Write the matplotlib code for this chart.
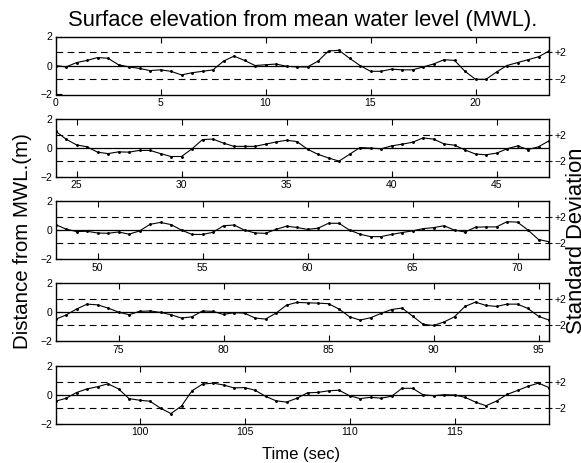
import numpy as np
import matplotlib
matplotlib.use("Agg")
import matplotlib.pyplot as plt

plt.rcParams['font.family'] = ['Liberation Sans', 'DejaVu Sans']

# Surface elevation (m) sampled every 0.5 s, one list per 24-s strip
strip1 = [0.0, -0.1, 0.2, 0.35, 0.55, 0.5, 0.05, -0.1, -0.2, -0.35, -0.3, -0.4,
          -0.65, -0.5, -0.4, -0.3, 0.3, 0.65, 0.35, 0.0, 0.05, 0.1, -0.05, -0.1,
          -0.1, 0.3, 1.0, 1.05, 0.5, 0.0, -0.4, -0.4, -0.25, -0.3, -0.3, -0.1,
          0.1, 0.4, 0.35, -0.4, -0.95, -0.95, -0.45, 0.0, 0.2, 0.4, 0.6, 1.0]
strip2 = [1.15, 0.6, 0.2, 0.07, -0.3, -0.4, -0.28, -0.3, -0.18, -0.18, -0.4, -0.6,
          -0.6, -0.07, 0.57, 0.6, 0.32, 0.1, 0.1, 0.1, 0.25, 0.4, 0.52, 0.43,
          -0.1, -0.45, -0.7, -0.92, -0.45, 0.02, -0.02, -0.07, 0.13, 0.25, 0.38, 0.68,
          0.6, 0.27, 0.18, -0.15, -0.43, -0.48, -0.37, -0.07, 0.13, -0.12, 0.07, 0.48]
strip3 = [0.38, 0.07, -0.1, -0.08, -0.2, -0.22, -0.13, -0.28, -0.06, 0.4, 0.53, 0.38,
          0.0, -0.3, -0.3, -0.15, 0.3, 0.35, 0.0, -0.2, -0.22, 0.05, 0.27, 0.18,
          0.05, 0.13, 0.47, 0.47, 0.0, -0.28, -0.45, -0.45, -0.3, -0.17, -0.05, 0.1,
          0.17, 0.3, 0.0, -0.13, 0.2, 0.22, 0.22, 0.58, 0.55, 0.0, -0.65, -0.8]
strip4 = [-0.48, -0.18, 0.23, 0.57, 0.52, 0.3, 0.02, -0.16, 0.07, 0.1, 0.0, -0.16,
          -0.39, -0.3, 0.1, 0.07, -0.14, -0.02, -0.05, -0.39, -0.46, -0.05, 0.5, 0.69,
          0.66, 0.64, 0.6, 0.23, -0.3, -0.53, -0.37, -0.07, 0.2, 0.3, -0.25, -0.82,
          -0.9, -0.66, -0.3, 0.41, 0.71, 0.48, 0.41, 0.57, 0.57, 0.27, -0.27, -0.53]
strip5 = [-0.45, -0.25, 0.15, 0.4, 0.55, 0.75, 0.4, -0.27, -0.38, -0.45, -0.93, -1.3,
          -0.78, 0.27, 0.73, 0.8, 0.67, 0.47, 0.49, 0.31, -0.11, -0.42, -0.51, -0.24,
          0.13, 0.16, 0.27, 0.31, -0.07, -0.27, -0.18, -0.24, -0.11, 0.44, 0.44, 0.0,
          -0.07, 0.0, -0.02, -0.18, -0.51, -0.76, -0.44, 0.02, 0.29, 0.58, 0.8, 0.49]
strips = [strip1, strip2, strip3, strip4, strip5]
strip_starts = [0, 24, 48, 72, 96]
xtick_sets = [[0, 5, 10, 15, 20], [25, 30, 35, 40, 45], [50, 55, 60, 65, 70],
              [75, 80, 85, 90, 95], [100, 105, 110, 115]]
sample_step = 0.5
two_sd = 0.9
right_labels = ['+2', '\u22122']

W, H = 581, 463
fig = plt.figure(figsize=(W / 100, H / 100), dpi=100)

left_px, right_px = 55.5, 549.0
ax_h_px = 58.0
top0_px, gap_px = 36.5, 82.3

for i, (vals, t0, xt) in enumerate(zip(strips, strip_starts, xtick_sets)):
    top_px = top0_px + gap_px * i
    ax = fig.add_axes([left_px / W, 1 - (top_px + ax_h_px) / H,
                       (right_px - left_px) / W, ax_h_px / H])
    t = t0 + sample_step * np.arange(len(vals))
    ax.axhline(0, color='black', lw=0.9)
    ax.axhline(two_sd, color='black', lw=0.8, ls=(0, (6, 4)))
    ax.axhline(-two_sd, color='black', lw=0.8, ls=(0, (6, 4)))
    ax.plot(t, vals, color='black', lw=0.8, marker='.', ms=2.2)
    ax.set_xlim(t0, t0 + sample_step * (len(vals) - 1))
    ax.set_ylim(-2, 2)
    ax.set_xticks(xt)
    ax.set_yticks([-2, 0, 2])
    ax.set_yticklabels(['\u22122', '0', '2'])
    ax.tick_params(direction='in', length=4, width=0.8, labelsize=7.5,
                   top=True, right=True, pad=2.5)
    for s in ax.spines.values():
        s.set_linewidth(1.0)
    axr = ax.twinx()
    axr.set_ylim(-2, 2)
    axr.set_yticks([two_sd, -two_sd])
    axr.set_yticklabels(right_labels)
    axr.tick_params(direction='out', length=2, width=0.8, labelsize=7.5, pad=2)
    for s in axr.spines.values():
        s.set_visible(False)

fig.text(303 / W, 1 - 26 / H, 'Surface elevation from mean water level (MWL).',
         ha='center', va='baseline', fontsize=15.8)
fig.text(301 / W, 1 - 458.5 / H, 'Time (sec)', ha='center', va='baseline',
         fontsize=12)
fig.text(23 / W, 1 - 241 / H, 'Distance from MWL.(m)', rotation=90,
         ha='center', va='center', fontsize=14.8)
fig.text(566 / W, 1 - 241 / H, 'Standard Deviation', rotation=90,
         ha='left', va='center', fontsize=15.8)

fig.savefig('out.png', dpi=100)
